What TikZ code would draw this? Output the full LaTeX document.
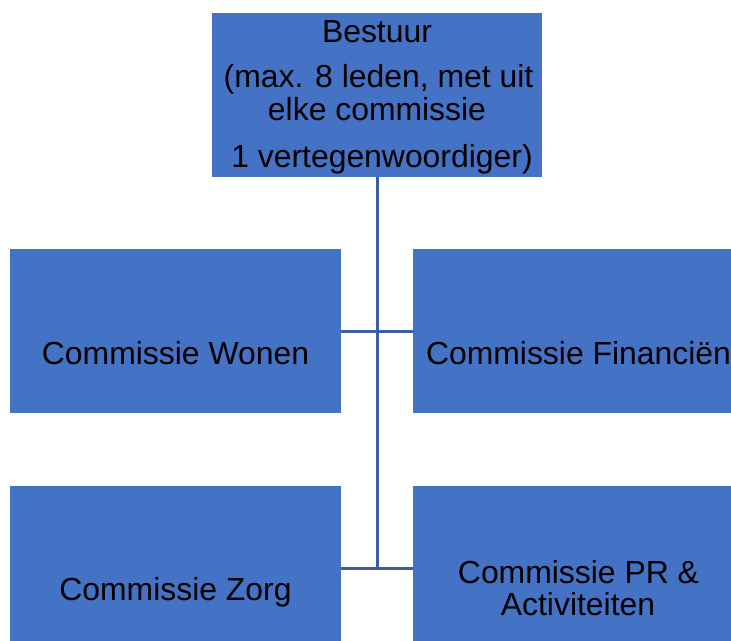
\documentclass[tikz,border=0pt]{standalone}
\usepackage{fontspec}
\setmainfont{Liberation Sans}
\definecolor{boxblue}{RGB}{68,114,196}
\definecolor{lineblue}{RGB}{59,94,163}
\begin{document}
\begin{tikzpicture}[x=1pt,y=-1pt,
  orgbox/.style={draw=none,fill=boxblue,rectangle,inner sep=0pt,minimum width=#1,minimum height=164pt},
  orgbox/.default=331pt,
  txt/.style={anchor=base,inner sep=0pt,font=\fontsize{31.9}{38}\selectfont,text=black},
  conn/.style={draw=lineblue,line width=3pt}]
\useasboundingbox (0,0) rectangle (731,640);
\clip (0,0) rectangle (731,640);
\fill[white] (0,0) rectangle (731,640);
% boxes
\node[orgbox=330pt] (bestuur) at (377,95) {};
\node[orgbox] (wonen) at (175.5,331) {};
\node[orgbox] (fin) at (578.5,331) {};
\node[orgbox] (zorg) at (175.5,568) {};
\node[orgbox] (pr) at (578.5,568) {};
% texts
\node[txt] (t1) at (377,42) {Bestuur};
\node[txt] (t2) at (378.5,87) {(max. 8 leden, met uit};
\node[txt] (t3) at (377,120) {elke commissie};
\node[txt] (t4) at (382,167) {1 vertegenwoordiger)};
\node[txt] (tw) at (175.5,364) {Commissie Wonen};
\node[txt] (tf) at (578.5,364) {Commissie Financiën};
\node[txt] (tz) at (175.5,600) {Commissie Zorg};
\node[txt] (tp1) at (578.5,583) {Commissie PR \&};
\node[txt] (tp2) at (578,615) {Activiteiten};
% connectors
\coordinate (bend) at (bestuur.south |- zorg.east);
\draw[conn] (bestuur.south) -- (bend);
\draw[conn] (wonen.east) -- (fin.west);
\draw[conn] (zorg.east) -- (pr.west);
\end{tikzpicture}
\end{document}
